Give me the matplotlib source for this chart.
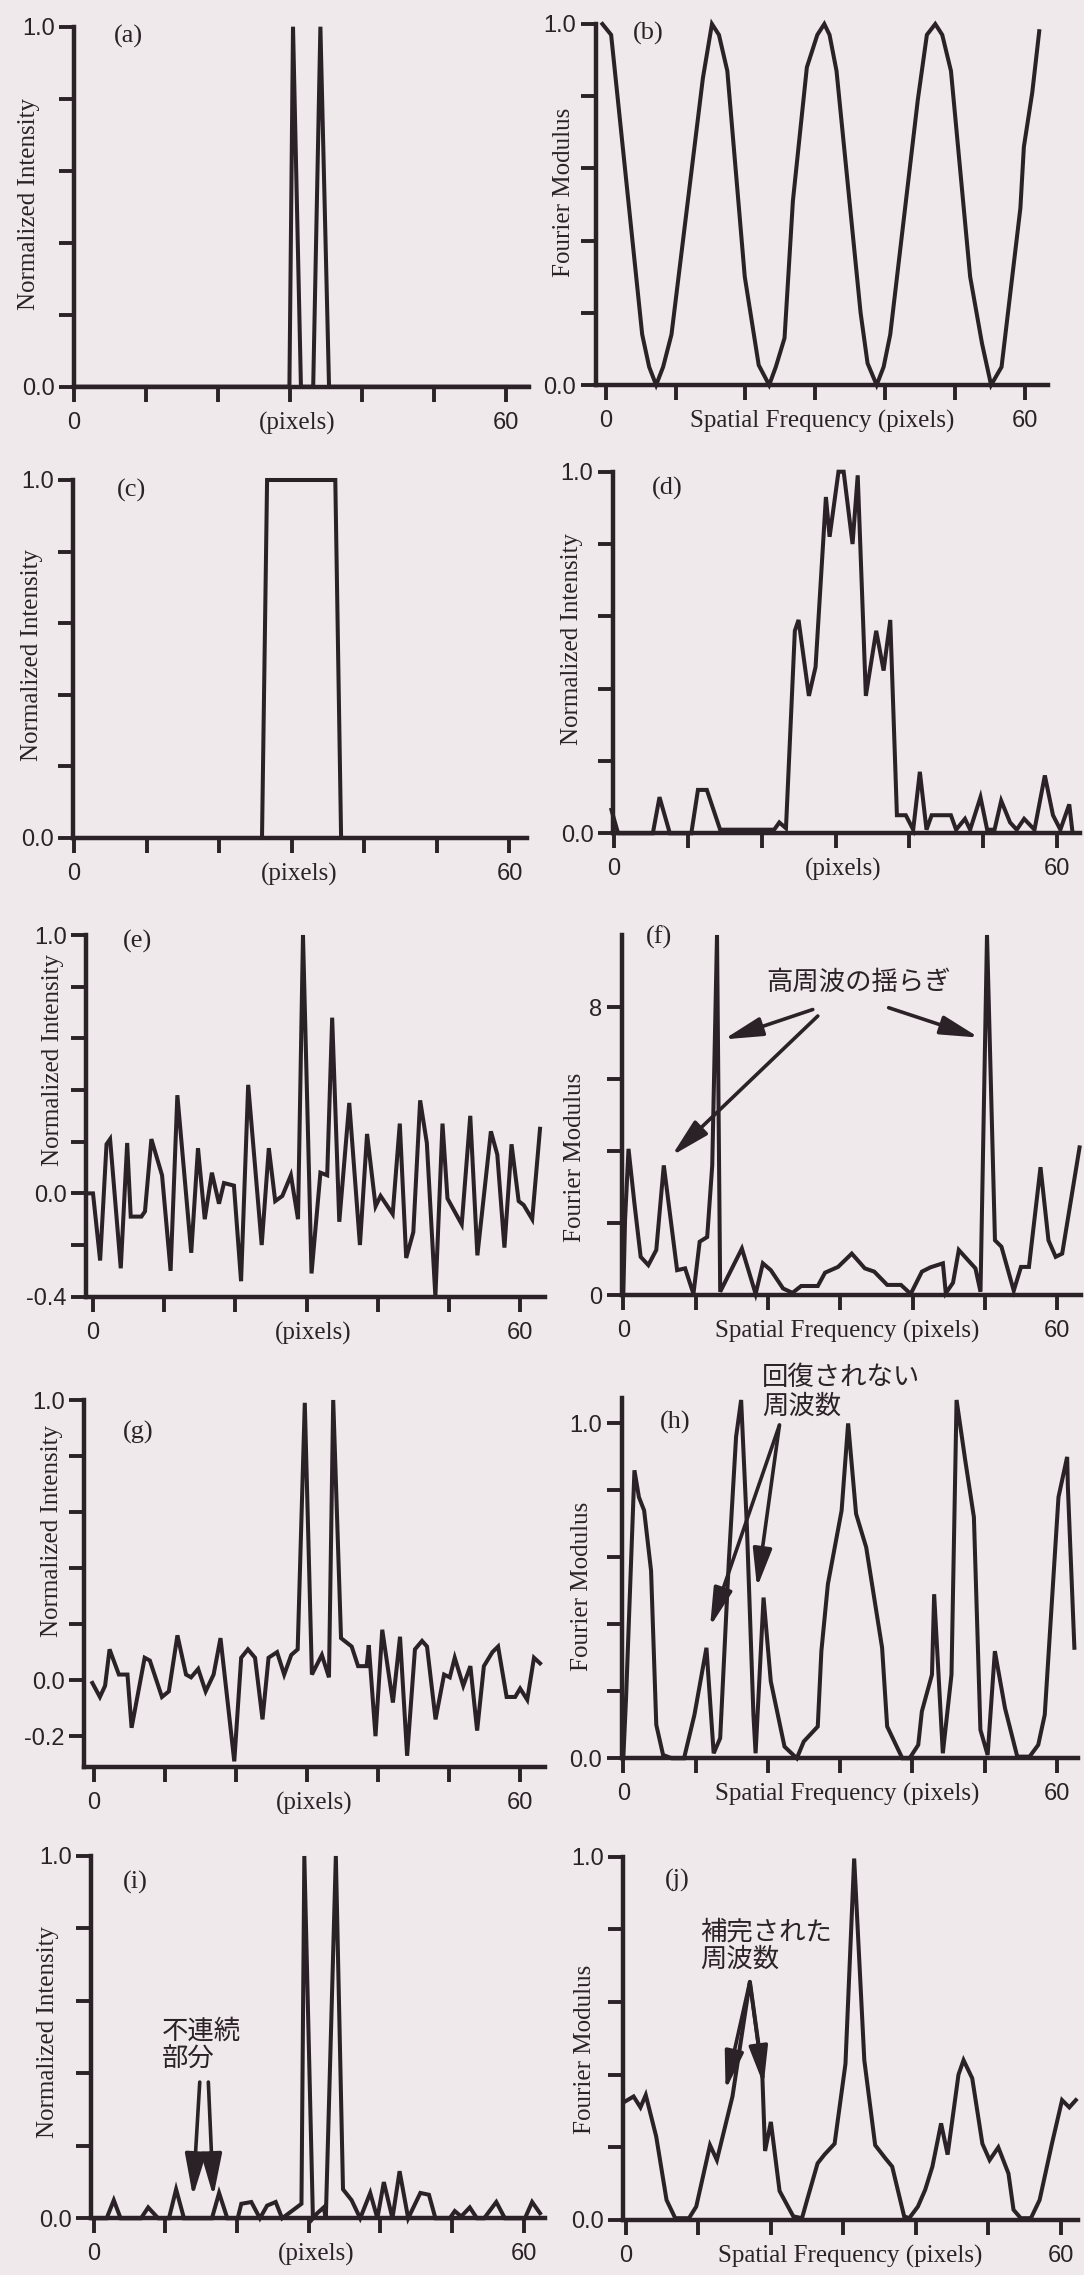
"""Phase-retrieval demo panels (a)-(j): test signals and their Fourier moduli."""
import matplotlib
matplotlib.use("Agg")
import matplotlib.pyplot as plt

W, H = 1084, 2275
INK = "#2b2227"
PAPER = "#efe9eb"
SERIF = ["Liberation Serif", "DejaVu Serif"]
SANS = ["Liberation Sans", "DejaVu Sans"]
JP = ["Noto Sans CJK JP", "DejaVu Sans"]

# ---- data (x in pixels / spatial frequency) ----
A_X = [0, 29.9, 30.4, 31.5, 33.2, 34.2, 35.4, 63.1]
A_Y = [0, 0, 1.0, 0, 0, 1.0, 0, 0]

B_X = [-0.5, 0.75, 5.2, 6.2, 7.2, 8.2, 9.4, 13.9, 15.2, 16.2, 17.4, 19.9, 21.9, 23.4,
       24.35, 25.6, 26.8, 28.8, 30.3, 31.3, 32.05, 33.05, 36.5, 37.5, 38.8, 39.8, 40.75,
       44.7, 46.0, 47.2, 48.2, 49.45, 52.2, 53.9, 55.2, 56.7, 59.4, 59.9, 61.1, 62.1]
B_Y = [1.0, 0.97, 0.14, 0.05, 0.0, 0.05, 0.14, 0.85, 1.0, 0.97, 0.87, 0.30, 0.055, 0.0,
       0.05, 0.13, 0.51, 0.88, 0.97, 1.0, 0.97, 0.87, 0.20, 0.06, 0.0, 0.05, 0.14,
       0.79, 0.97, 1.0, 0.97, 0.87, 0.30, 0.115, 0.0, 0.05, 0.49, 0.66, 0.81, 0.98]

C_X = [0, 25.9, 26.6, 36.0, 36.8, 62.2]
C_Y = [0, 0, 1.0, 1.0, 0, 0]

D_X = [-0.3, 0.6, 5.3, 6.2, 7.6, 10.5, 11.4, 12.6, 14.4, 21.7, 22.4, 23.3, 24.5, 25.0,
       26.4, 27.3, 28.7, 29.2, 30.4, 31.1, 32.3, 33.0, 34.1, 35.5, 36.5, 37.4, 38.3,
       39.5, 40.5, 41.4, 42.3, 43.0, 44.4, 45.6, 46.3, 47.5, 48.2, 49.6, 50.5, 51.5,
       52.4, 53.6, 54.5, 55.5, 56.9, 58.3, 59.4, 60.4, 61.6, 62.0]
D_Y = [0.065, 0, 0, 0.10, 0, 0, 0.12, 0.12, 0.01, 0.01, 0.03, 0.014, 0.56, 0.59,
       0.38, 0.46, 0.93, 0.82, 1.0, 1.0, 0.80, 0.99, 0.38, 0.56, 0.45, 0.59, 0.05,
       0.05, 0.01, 0.17, 0.01, 0.05, 0.05, 0.05, 0.01, 0.04, 0.01, 0.10, 0.01, 0.01,
       0.09, 0.03, 0.01, 0.04, 0.01, 0.16, 0.05, 0.01, 0.08, 0.01]

E_X = [-0.5, 0, 1.0, 1.9, 2.4, 3.9, 4.8, 5.3, 6.8, 7.3, 8.2, 9.7, 10.9, 11.85, 13.8,
       14.75, 15.7, 16.7, 17.7, 18.4, 19.8, 20.8, 21.8, 23.7, 24.7, 25.6, 26.6, 27.8,
       28.8, 29.5, 30.7, 31.95, 32.9, 33.6, 34.6, 36.0, 37.5, 38.5, 39.7, 40.4, 42.1,
       43.1, 44.0, 45.0, 45.96, 46.9, 48.1, 49.1, 49.8, 51.8, 53.0, 54.0, 55.9, 56.8,
       57.8, 58.8, 59.8, 60.5, 61.7, 62.8]
E_Y = [0.0, 0.0, -0.26, 0.19, 0.21, -0.29, 0.195, -0.09, -0.09, -0.07, 0.21, 0.07,
       -0.30, 0.38, -0.23, 0.175, -0.10, 0.08, -0.04, 0.04, 0.03, -0.34, 0.42, -0.20,
       0.175, -0.03, -0.01, 0.07, -0.10, 1.0, -0.31, 0.08, 0.07, 0.68, -0.11, 0.35,
       -0.20, 0.23, -0.05, -0.01, -0.08, 0.27, -0.25, -0.15, 0.36, 0.195, -0.40, 0.27,
       -0.02, -0.12, 0.30, -0.24, 0.24, 0.15, -0.21, 0.19, -0.03, -0.045, -0.10, 0.25]

F_X = [0, 0.24, 0.72, 1.54, 2.4, 3.46, 4.56, 5.6, 7.44, 8.55, 9.7, 10.56, 11.6, 12.3,
       12.96, 13.4, 16.4, 18.3, 19.3, 20.4, 22.1, 23.4, 24.6, 26.9, 27.9, 29.7, 31.6,
       33.4, 34.7, 36.5, 38.4, 39.75, 41.3, 42.5, 44.2, 44.6, 45.6, 46.4, 48.7, 49.4,
       50.3, 51.4, 52.3, 54.0, 55.0, 56.1, 57.7, 58.8, 59.8, 60.7, 63.1]
F_Y = [0, 2.08, 4.06, 2.54, 1.06, 0.83, 1.25, 3.6, 0.69, 0.74, 0.03, 1.48, 1.61, 3.6,
       10.0, 0.09, 1.29, 0.03, 0.88, 0.69, 0.18, 0.06, 0.25, 0.25, 0.62, 0.78, 1.15,
       0.74, 0.65, 0.28, 0.28, 0.03, 0.65, 0.77, 0.88, 0.05, 0.34, 1.25, 0.74, 0.09,
       10.0, 1.52, 1.34, 0.12, 0.78, 0.78, 3.55, 1.52, 1.06, 1.15, 4.1]

G_X = [-0.19, 0.87, 1.6, 2.23, 3.54, 4.75, 5.33, 7.17, 7.9, 9.6, 10.57, 11.78, 12.99,
       13.7, 14.7, 15.75, 16.87, 17.84, 19.78, 20.75, 21.7, 22.7, 23.75, 24.6, 25.8,
       26.8, 27.8, 28.7, 29.7, 30.7, 32.1, 33.1, 33.7, 34.8, 36.3, 37.2, 38.4, 38.7,
       39.65, 40.6, 42.1, 43.1, 44.1, 45.2, 46.2, 46.9, 48.1, 49.3, 50.1, 50.8, 52.0,
       53.0, 53.95, 54.9, 56.1, 56.9, 58.1, 59.3, 60.0, 61.0, 61.95, 62.8]
G_Y = [-0.01, -0.06, -0.02, 0.11, 0.02, 0.02, -0.17, 0.08, 0.07, -0.06, -0.04, 0.16,
       0.02, 0.01, 0.04, -0.04, 0.02, 0.15, -0.29, 0.08, 0.11, 0.08, -0.14, 0.08, 0.10,
       0.02, 0.09, 0.11, 0.99, 0.02, 0.09, 0.01, 1.0, 0.15, 0.12, 0.05, 0.05, 0.125,
       -0.20, 0.18, -0.08, 0.155, -0.27, 0.11, 0.14, 0.12, -0.14, 0.02, 0.01, 0.08,
       -0.02, 0.05, -0.18, 0.05, 0.10, 0.12, -0.06, -0.06, -0.03, -0.07, 0.08, 0.06]

H_X = [0, 0.38, 1.54, 2.16, 2.88, 3.84, 4.56, 5.5, 6.7, 8.4, 9.84, 11.5, 12.5, 13.4,
       14.6, 15.6, 16.3, 17.1, 18.0, 18.3, 19.4, 20.4, 22.3, 24.0, 24.96, 26.9, 27.4,
       28.3, 30.2, 31.1, 32.2, 33.6, 35.8, 36.5, 38.6, 39.6, 40.8, 41.3, 42.7, 43.0,
       44.2, 45.4, 46.1, 47.3, 48.5, 49.4, 50.4, 51.4, 52.8, 54.5, 56.2, 57.4, 58.3,
       60.2, 61.4, 61.5, 62.4]
H_Y = [0, 0.18, 0.86, 0.78, 0.74, 0.56, 0.10, 0.01, 0.0, 0.0, 0.13, 0.33, 0.015, 0.06,
       0.59, 0.96, 1.07, 0.69, 0.13, 0.015, 0.48, 0.23, 0.035, 0.0, 0.05, 0.095, 0.32,
       0.52, 0.74, 1.0, 0.73, 0.63, 0.33, 0.095, 0.0, 0.0, 0.04, 0.14, 0.25, 0.49,
       0.015, 0.25, 1.07, 0.89, 0.72, 0.085, 0.01, 0.32, 0.15, 0.005, 0.005, 0.04, 0.13,
       0.78, 0.90, 0.81, 0.33]

I_X = [0, 1.8, 2.8, 3.75, 6.6, 7.6, 9.0, 10.5, 11.5, 12.6, 16.5, 17.5, 18.65, 20.1,
       20.6, 22.0, 23.2, 24.2, 25.4, 26.3, 29.0, 29.4, 30.6, 31.2, 32.1, 32.4, 33.8,
       34.8, 36.0, 37.2, 38.6, 39.6, 40.5, 41.7, 42.7, 43.9, 45.6, 46.8, 47.7, 49.7,
       50.4, 51.3, 52.5, 53.5, 54.5, 56.2, 57.4, 60.2, 61.2, 62.3]
I_Y = [0, 0, 0.05, 0, 0, 0.03, 0, 0, 0.08, 0, 0, 0.07, 0, 0, 0.04, 0.045, 0, 0.035,
       0.045, 0, 0.04, 1.0, 0, 0.014, 0.03, 0, 1.0, 0.08, 0.05, 0, 0.07, 0, 0.1, 0,
       0.13, 0, 0.07, 0.065, 0, 0, 0.02, 0.005, 0.03, 0, 0, 0.045, 0, 0, 0.045, 0.014]

J_X = [-0.14, 1.05, 2.0, 2.73, 4.17, 5.6, 6.8, 8.7, 9.7, 11.6, 12.55, 14.7, 17.1, 18.8,
       19.2, 20.0, 21.2, 23.1, 24.3, 25.0, 26.45, 27.4, 28.8, 30.3, 31.5, 32.9, 34.4,
       35.8, 36.75, 38.4, 39.1, 40.3, 41.3, 42.3, 43.5, 44.4, 45.9, 46.6, 47.8, 49.2,
       50.2, 51.4, 52.8, 53.5, 54.5, 55.9, 57.1, 58.8, 60.2, 61.2, 62.1]
J_Y = [0.326, 0.34, 0.31, 0.344, 0.23, 0.055, 0.005, 0.005, 0.037, 0.206, 0.165, 0.34,
       0.656, 0.41, 0.19, 0.27, 0.08, 0.01, 0.005, 0.055, 0.156, 0.18, 0.21, 0.43, 0.995,
       0.44, 0.206, 0.17, 0.147, 0.01, 0.005, 0.037, 0.083, 0.147, 0.266, 0.18, 0.40,
       0.44, 0.39, 0.21, 0.165, 0.20, 0.128, 0.028, 0.005, 0.005, 0.055, 0.21, 0.33,
       0.31, 0.33]

X_TICKS = [0, 10, 20, 30, 40, 50, 60]
X_TICK_LABELS = ["0", "", "", "", "", "", "60"]
INT_LABEL = "Normalized Intensity"
MOD_LABEL = "Fourier Modulus"
PIX_LABEL = "(pixels)"
FREQ_LABEL = "Spatial Frequency (pixels)"

# panel layout in reference pixels: left, right, top, bottom, xlim, ylim
LAYOUT = {
    "a": (74.0, 528.6, 26.7, 386.7, (0, 63.1), (0, 1)),
    "b": (595.5, 1048.3, 24, 385, (-1.49, 63.4), (0, 1)),
    "c": (73.3, 526.9, 480, 838, (-0.1, 62.4), (0, 1)),
    "d": (612.9, 1079.6, 471.7, 833.3, (-0.1, 63.0), (0, 1)),
    "e": (86.1, 545, 935, 1296.7, (-0.97, 63.5), (-0.4, 1.0)),
    "f": (621.5, 1081, 935, 1295, (-0.25, 63.3), (0, 10)),
    "g": (84.4, 545, 1400, 1767, (-1.31, 63.5), (-0.31, 1.0)),
    "h": (621.5, 1078, 1398.3, 1758.3, (-0.25, 62.9), (0, 1.075)),
    "i": (91.3, 545, 1856, 2218.3, (-0.34, 63.0), (0, 1)),
    "j": (623.3, 1078, 1856.7, 2220, (-0.37, 62.4), (0, 1)),
}
# y-axis label centre and panel tag centre, reference pixels
YLAB_POS = {"a": (29, 204), "b": (564, 192), "c": (32, 655), "d": (572, 639),
            "e": (53, 1060), "f": (575, 1157), "g": (52, 1531), "h": (582, 1586),
            "i": (48, 2032), "j": (585, 2049)}
TAG_POS = {"a": (128, 36), "b": (648, 33), "c": (131, 490), "d": (667, 488),
           "e": (138, 941), "f": (659, 937), "g": (138, 1432), "h": (675, 1422),
           "i": (135, 1882), "j": (677, 1880)}

UNIT_TICKS = [0, 0.2, 0.4, 0.6, 0.8, 1.0]
UNIT_LABELS = ["0.0", "", "", "", "", "1.0"]

fig = plt.figure(figsize=(W / 100, H / 100), dpi=100, facecolor=PAPER)


def panel(key, xs, ys, ylabel, xlabel, yticks, ylabels):
    left, right, top, bottom, xlim, ylim = LAYOUT[key]
    ax = fig.add_axes([left / W, 1 - bottom / H, (right - left) / W, (bottom - top) / H])
    ax.set_facecolor("none")
    for s in ("top", "right"):
        ax.spines[s].set_visible(False)
    for s in ("left", "bottom"):
        ax.spines[s].set_linewidth(3.2)
        ax.spines[s].set_color(INK)
        ax.spines[s].set_capstyle("projecting")
    ax.plot(xs, ys, color=INK, lw=2.9, clip_on=False, solid_joinstyle="miter")
    ax.set_xlim(*xlim)
    ax.set_ylim(*ylim)
    ax.set_xticks(X_TICKS, X_TICK_LABELS)
    ax.set_yticks(yticks, ylabels)
    ax.tick_params(direction="out", length=11, width=2.8, color=INK, labelcolor=INK,
                   labelsize=17, labelfontfamily=SANS)
    ax.tick_params(axis="x", pad=7)
    ax.tick_params(axis="y", pad=3)
    ax.annotate(xlabel, xy=(31, 0), xycoords=("data", "axes fraction"),
                xytext=(0, -18), textcoords="offset points", ha="center", va="top",
                fontsize=18, family=SERIF, color=INK)
    lx, ly = YLAB_POS[key]
    fig.text(lx / W, 1 - ly / H, ylabel, rotation=90, ha="center", va="center",
             fontsize=18, family=SERIF, color=INK)
    tx, ty = TAG_POS[key]
    fig.text(tx / W, 1 - ty / H, f"({key})", ha="center", va="center",
             fontsize=19, family=SERIF, color=INK)
    return ax


def arrow(ax, tail, tip, scale=18):
    ax.annotate("", xy=tip, xytext=tail, annotation_clip=False,
                arrowprops=dict(arrowstyle="-|>,head_length=1.3,head_width=0.32",
                                mutation_scale=scale, lw=2.6, color=INK,
                                shrinkA=0, shrinkB=0))


def note(ax, x, y, text, ha="left"):
    ax.text(x, y, text, ha=ha, va="center", fontsize=19, family=JP, color=INK,
            linespacing=1.05, clip_on=False)


panel("a", A_X, A_Y, INT_LABEL, PIX_LABEL, UNIT_TICKS, UNIT_LABELS)
panel("b", B_X, B_Y, MOD_LABEL, FREQ_LABEL, UNIT_TICKS, UNIT_LABELS)
panel("c", C_X, C_Y, INT_LABEL, PIX_LABEL, UNIT_TICKS, UNIT_LABELS)
panel("d", D_X, D_Y, INT_LABEL, PIX_LABEL, UNIT_TICKS, UNIT_LABELS)
panel("e", E_X, E_Y, INT_LABEL, PIX_LABEL,
      [-0.4, -0.2, 0, 0.2, 0.4, 0.6, 0.8, 1.0], ["-0.4", "", "0.0", "", "", "", "", "1.0"])

ax = panel("f", F_X, F_Y, MOD_LABEL, FREQ_LABEL, [0, 2, 4, 6, 8], ["0", "", "", "", "8"])
note(ax, 32.6, 8.7, "高周波の揺らぎ", ha="center")
arrow(ax, (26.2, 7.93), (13.9, 7.1))
arrow(ax, (26.9, 7.75), (6.7, 3.87))
arrow(ax, (36.7, 7.98), (49.2, 7.15))

panel("g", G_X, G_Y, INT_LABEL, PIX_LABEL,
      [-0.2, 0, 0.2, 0.4, 0.6, 0.8, 1.0], ["-0.2", "0.0", "", "", "", "", "1.0"])

ax = panel("h", H_X, H_Y, MOD_LABEL, FREQ_LABEL, UNIT_TICKS, UNIT_LABELS)
note(ax, 19.2, 1.094, "回復されない\n周波数")
arrow(ax, (21.6, 0.995), (12.0, 0.393))
arrow(ax, (21.6, 0.995), (18.5, 0.51))

ax = panel("i", I_X, I_Y, INT_LABEL, PIX_LABEL, UNIT_TICKS, UNIT_LABELS)
note(ax, 9.5, 0.477, "不連続\n部分")
arrow(ax, (14.8, 0.376), (13.85, 0.06), scale=20)
arrow(ax, (16.0, 0.376), (16.7, 0.06), scale=20)

ax = panel("j", J_X, J_Y, MOD_LABEL, FREQ_LABEL, UNIT_TICKS, UNIT_LABELS)
note(ax, 10.2, 0.755, "補完された\n周波数")
arrow(ax, (17.1, 0.656), (13.75, 0.358))
arrow(ax, (17.1, 0.656), (19.0, 0.372))

fig.savefig("out.png", dpi=100, facecolor=PAPER)
